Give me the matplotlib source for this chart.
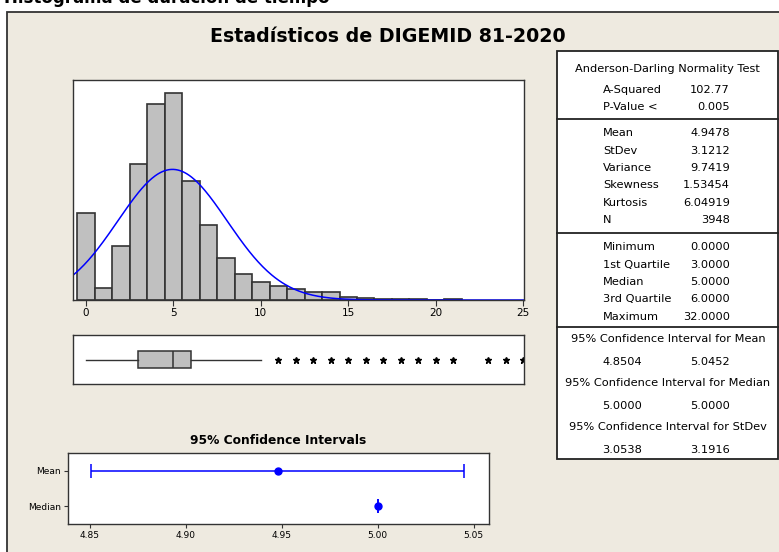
import numpy as np
import matplotlib
matplotlib.use('Agg')
from matplotlib import pyplot as plt
from matplotlib.patches import Rectangle

plt.rcParams['font.family'] = ['DejaVu Sans']

# histogram: counts per integer value 0..21
bin_centers = list(range(0, 22))
counts = [337, 46, 208, 525, 756, 799, 461, 290, 163, 99, 71, 53,
          42, 32, 32, 10, 9, 4, 4, 4, 0, 5]

# summary stats
MEAN = 4.9478
STDEV = 3.1212
N = 3948
q1, median, q3 = 3.0, 5.0, 6.0
whis_lo, whis_hi = 0.0, 10.0
outliers = [11, 12, 13, 14, 15, 16, 17, 18, 19, 20, 21, 23, 24, 25, 26, 27, 29, 32]

ci_labels = ['Mean', 'Median']
ci_centers = [4.9478, 5.0]
ci_low = [4.8504, 5.0]
ci_high = [5.0452, 5.0]
ci_ticks = [4.85, 4.90, 4.95, 5.00, 5.05]

table_top = [('A-Squared', '102.77'), ('P-Value <', '0.005')]
table_mid = [('Mean', '4.9478'), ('StDev', '3.1212'), ('Variance', '9.7419'),
             ('Skewness', '1.53454'), ('Kurtosis', '6.04919'), ('N', '3948')]
table_low = [('Minimum', '0.0000'), ('1st Quartile', '3.0000'), ('Median', '5.0000'),
             ('3rd Quartile', '6.0000'), ('Maximum', '32.0000')]
table_ci = [('95% Confidence Interval for Mean', '4.8504', '5.0452'),
            ('95% Confidence Interval for Median', '5.0000', '5.0000'),
            ('95% Confidence Interval for StDev', '3.0538', '3.1916')]

W, H = 779, 552
fig = plt.figure(figsize=(W / 100, H / 100), dpi=100, facecolor='white')

# background / frame in pixel coords
bg = fig.add_axes([0, 0, 1, 1], zorder=-10)
bg.set_xlim(0, W)
bg.set_ylim(H, 0)
bg.axis('off')
bg.add_patch(Rectangle((7, 12), 900, 700, facecolor='#EEEAE0', edgecolor='#333333', lw=1.3))
bg.text(4, 3, 'Histograma de duración de tiempo', fontsize=12, fontweight='bold', va='baseline')
bg.text(388, 36, 'Estadísticos de DIGEMID 81-2020', fontsize=13.7, fontweight='bold',
        ha='center', va='center')

# stats table
bg.add_patch(Rectangle((557, 51), 221, 408, facecolor='white', edgecolor='#222222', lw=1.3))
for yy in [119, 232.5, 327]:
    bg.plot([557, 778], [yy, yy], color='#222222', lw=1.3)
fs = 8.2
bg.text(667, 69, 'Anderson-Darling Normality Test', fontsize=fs, ha='center', va='center')
lx, rx = 603, 730
for i, (a, b) in enumerate(table_top):
    y = 90 + i * 17.3
    bg.text(lx, y, a, fontsize=fs, va='center')
    bg.text(rx, y, b, fontsize=fs, va='center', ha='right')
for i, (a, b) in enumerate(table_mid):
    y = 133.5 + i * 17.3
    bg.text(lx, y, a, fontsize=fs, va='center')
    bg.text(rx, y, b, fontsize=fs, va='center', ha='right')
for i, (a, b) in enumerate(table_low):
    y = 247.3 + i * 17.3
    bg.text(lx, y, a, fontsize=fs, va='center')
    bg.text(rx, y, b, fontsize=fs, va='center', ha='right')
for i, (a, b, c) in enumerate(table_ci):
    y = 339 + i * 44
    bg.text(668, y, a, fontsize=fs, va='center', ha='center')
    bg.text(622, y + 23, b, fontsize=fs, va='center', ha='center')
    bg.text(rx, y + 23, c, fontsize=fs, va='center', ha='right')

bg.text(278, 441, '95% Confidence Intervals', fontsize=8.8, fontweight='bold',
        ha='center', va='center')

edge = '#333333'

# histogram
ax = fig.add_axes([72.7 / W, 1 - 300 / H, 451.3 / W, 220 / H])
ax.bar(bin_centers, counts, width=1.0, color='#C0C0C0', edgecolor=edge, linewidth=1.2)
xs = np.linspace(-0.76, 25.05, 400)
pdf = N * np.exp(-0.5 * ((xs - MEAN) / STDEV) ** 2) / (STDEV * np.sqrt(2 * np.pi))
ax.plot(xs, pdf, color='#0000FF', lw=1.1)
ax.set_xlim(-0.76, 25.05)
ax.set_ylim(0, 850)
ax.set_yticks([])
ax.set_xticks([0, 5, 10, 15, 20, 25])
ax.tick_params(axis='x', direction='out', length=4, labelsize=7.5, color=edge, pad=2)
for s in ax.spines.values():
    s.set_color(edge)
    s.set_linewidth(1.0)

# boxplot
axb = fig.add_axes([72.7 / W, 1 - 384 / H, 451.3 / W, 49 / H])
stats = [dict(med=median, q1=q1, q3=q3, whislo=whis_lo, whishi=whis_hi, fliers=outliers)]
axb.bxp(stats, positions=[0.5], widths=0.36, vert=False, patch_artist=True, showcaps=False,
        boxprops=dict(facecolor='#C0C0C0', edgecolor=edge, linewidth=1.1),
        medianprops=dict(color=edge, linewidth=1.1),
        whiskerprops=dict(color=edge, linewidth=1.0),
        flierprops=dict(marker='*', markersize=5, markerfacecolor='black',
                        markeredgecolor='black'))
axb.set_xlim(-0.76, 25.05)
axb.set_ylim(0, 1)
axb.set_xticks([])
axb.set_yticks([])
for s in axb.spines.values():
    s.set_color(edge)
    s.set_linewidth(1.0)

# confidence intervals
axc = fig.add_axes([68 / W, 1 - 524 / H, 421 / W, 71 / H])
for i in range(len(ci_labels)):
    xerr = [[ci_centers[i] - ci_low[i]], [ci_high[i] - ci_centers[i]]]
    axc.errorbar([ci_centers[i]], [i], xerr=xerr, fmt='o', color='#0000FF', markersize=5,
                 capsize=5, elinewidth=1.1, capthick=1.1)
axc.set_xlim(4.8385, 5.058)
axc.set_ylim(1.5, -0.5)
axc.set_yticks(range(len(ci_labels)))
axc.set_yticklabels(ci_labels)
axc.set_xticks(ci_ticks)
axc.set_xticklabels(['%.2f' % t for t in ci_ticks])
axc.tick_params(direction='out', length=3, labelsize=6.5, color=edge, pad=2)
for s in axc.spines.values():
    s.set_color(edge)
    s.set_linewidth(1.0)

fig.savefig('out.png', dpi=100)
